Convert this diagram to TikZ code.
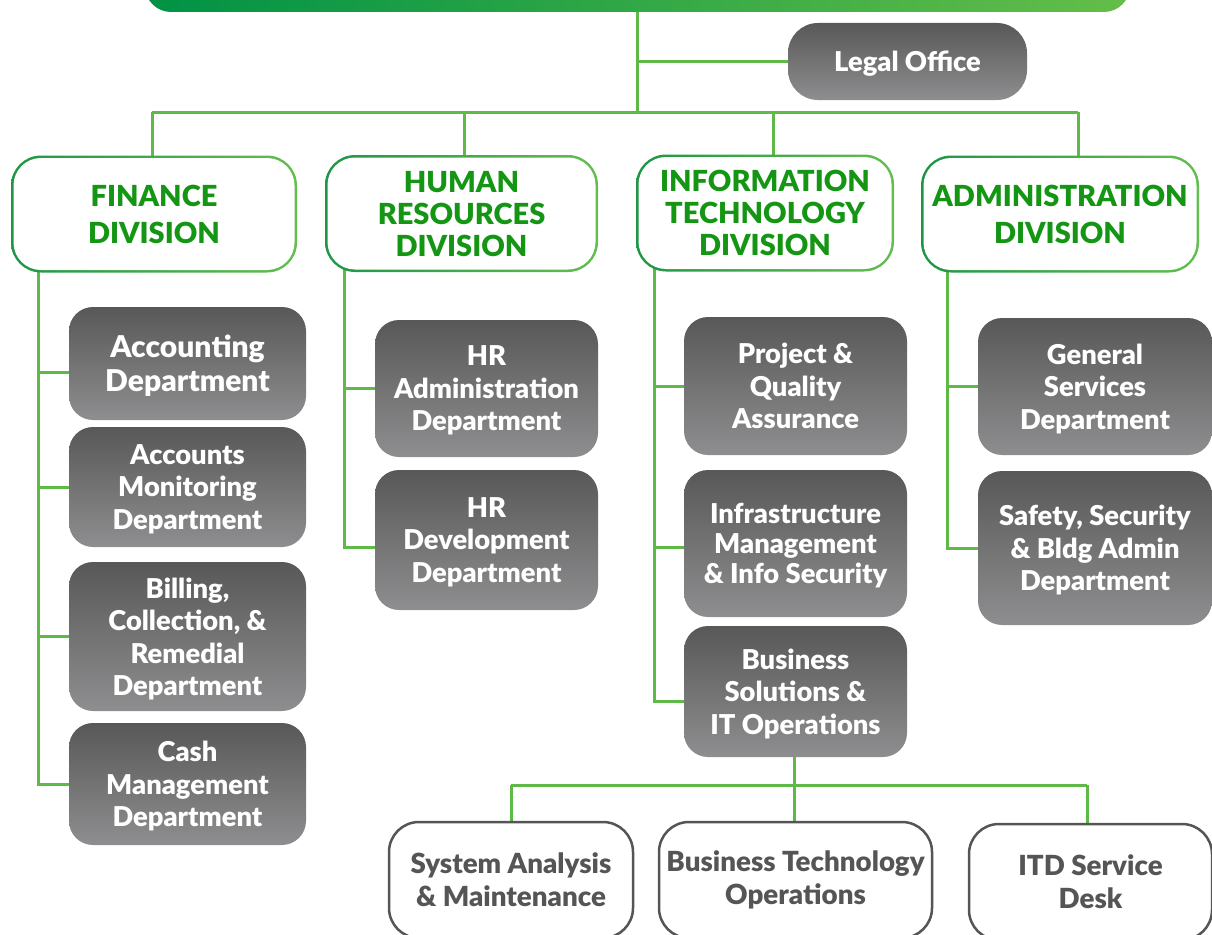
\documentclass[tikz,border=0pt]{standalone}
\usepackage{fontspec}
\setmainfont{Lato}
\newfontfamily\hvy{Lato Black}
\definecolor{lnk}{RGB}{95,185,70}
\definecolor{divtxt}{RGB}{20,150,20}
\definecolor{divL}{RGB}{30,150,70}
\definecolor{divR}{RGB}{100,190,80}
\definecolor{gtop}{RGB}{88,88,88}
\definecolor{gbot}{RGB}{142,142,144}
\definecolor{wtxt}{RGB}{85,85,85}
\definecolor{barL}{RGB}{0,146,69}
\definecolor{barM}{RGB}{0,166,81}
\definecolor{barR}{RGB}{100,190,72}
\pgfdeclarelayer{bg}
\pgfsetlayers{bg,main}
\tikzset{
  link/.style={draw=lnk, line width=3pt},
  gbox/.style={rounded corners=24pt, top color=gtop, bottom color=gbot, draw=none,
    text=white, font=\hvy\fontsize{27.3}{32.5}\selectfont, align=center, inner sep=0pt, text depth=0pt},
  divbox/.style={rounded corners=30pt, left color=divL, right color=divR, draw=none,
    text=divtxt, font=\hvy\fontsize{29}{32}\selectfont, align=center, inner sep=0pt, text depth=0pt,
    path picture={\fill[white, rounded corners=27.5pt]
      ([shift={(2.5pt,2.5pt)}]path picture bounding box.south west) rectangle
      ([shift={(-2.5pt,-2.5pt)}]path picture bounding box.north east);}},
  wbox/.style={rounded corners=30pt, draw=wtxt, line width=2.5pt, fill=white,
    text=wtxt, font=\hvy\fontsize{27.7}{33}\selectfont, align=center, inner sep=0pt},
}
\begin{document}
\begin{tikzpicture}[x=1pt,y=-1pt]
\useasboundingbox (0,0) rectangle (1212,934);
% top bar
\node[rounded corners=26pt, left color=barL, middle color=barM, right color=barR,
  minimum width=985pt, minimum height=44pt, inner sep=0pt] (bar) at (637.5,-10) {};
% legal office
\node[gbox, rounded corners=30pt, minimum width=239pt, minimum height=77pt] (legal) at (907.5,61.5) {Legal Office};
% divisions
\node[divbox, minimum width=286pt, minimum height=117pt, font=\hvy\fontsize{29}{37}\selectfont] (fin) at (154,214) {FINANCE\\DIVISION};
\node[divbox, minimum width=273pt, minimum height=117pt] (hr) at (461.5,213.5) {HUMAN\\RESOURCES\\DIVISION};
\node[divbox, minimum width=258pt, minimum height=117pt] (it) at (765,213) {INFORMATION\\TECHNOLOGY\\DIVISION};
\node[divbox, minimum width=278pt, minimum height=117pt, font=\hvy\fontsize{29}{37}\selectfont] (adm) at (1060,214) {ADMINISTRATION\\DIVISION};
% finance departments
\node[gbox, minimum width=237pt, minimum height=113pt, font=\hvy\fontsize{30}{34}\selectfont] (acc) at (187.5,363.5) {Accoun\kern0pt ting\\Department};
\node[gbox, minimum width=237pt, minimum height=120pt] (accm) at (187.5,487) {Accounts\\Monitoring\\Department};
\node[gbox, minimum width=237pt, minimum height=149pt] (bill) at (187.5,636.5) {Billing,\\Collec\kern0pt tion, \&\\Remedial\\Department};
\node[gbox, minimum width=237pt, minimum height=122pt] (cash) at (187.5,784) {Cash\\Management\\Department};
% HR departments
\node[gbox, minimum width=223pt, minimum height=137pt] (hra) at (486.5,388.5) {HR\\Administra\kern0pt tion\\Department};
\node[gbox, minimum width=223pt, minimum height=140pt] (hrd) at (486.5,540) {HR\\Development\\Department};
% IT departments
\node[gbox, minimum width=223pt, minimum height=138pt] (pqa) at (795.5,386) {Project \&\\Quality\\Assurance};
\node[gbox, minimum width=223pt, minimum height=147pt, font=\hvy\fontsize{27.3}{30}\selectfont] (inf) at (795.5,543.5) {Infrastructure\\Management\\\& Info Security};
\node[gbox, minimum width=223pt, minimum height=131pt] (bus) at (795.5,691.5) {Business\\Solutions \&\\IT Opera\kern0pt tions};
% admin departments
\node[gbox, minimum width=234pt, minimum height=137pt] (gen) at (1095,386.5) {General\\Services\\Department};
\node[gbox, minimum width=234pt, minimum height=154pt] (saf) at (1095,548) {Safety, Security\\\& Bldg Admin\\Department};
% IT sub units
\node[wbox, minimum width=244pt, minimum height=116pt] (sam) at (511,880) {System Analysis\\\& Maintenance};
\node[wbox, minimum width=273pt, minimum height=116pt] (bto) at (795.5,880) {Business Technology\\Opera\kern0pt tions};
\node[wbox, minimum width=243pt, minimum height=116pt] (itd) at (1090.5,882) {ITD Service\\Desk};
% coordinates
\coordinate (busL) at (152,112);
\coordinate (busR) at (1078,112);
\coordinate (dHR) at (464,112);
\coordinate (dIT) at (773,112);
\coordinate (sF) at (38,0);
\coordinate (sH) at (344,0);
\coordinate (sI) at (654,0);
\coordinate (sA) at (947,0);
\coordinate (bAcc) at (38,372);
\coordinate (bHrd) at (344,547);
\coordinate (bInf) at (654,547);
\coordinate (bBus) at (654,701);
\coordinate (bbL) at (511,785);
\coordinate (bbM) at (794,785);
\coordinate (bbR) at (1087,785);
\begin{pgfonlayer}{bg}
\draw[link] (bar.center) -- (bar.center |- busL);
\draw[link] (bar.center |- legal.center) -- (legal.center);
\draw[link] (busL) -- (busR);
\draw[link] (busL) -- (busL |- fin.center);
\draw[link] (dHR) -- (dHR |- hr.center);
\draw[link] (dIT) -- (dIT |- it.center);
\draw[link] (busR) -- (busR |- adm.center);
% finance
\draw[link] (sF |- fin.center) |- (cash.center);
\draw[link] (bAcc) -- (bAcc -| acc.center);
\draw[link] (sF |- accm.center) -- (accm.center);
\draw[link] (sF |- bill.center) -- (bill.center);
% hr
\draw[link] (sH |- hr.center) -- (bHrd) -- (bHrd -| hrd.center);
\draw[link] (sH |- hra.center) -- (hra.center);
% it
\draw[link] (sI |- it.center) -- (bBus) -- (bBus -| bus.center);
\draw[link] (sI |- pqa.center) -- (pqa.center);
\draw[link] (bInf) -- (bInf -| inf.center);
% admin
\draw[link] (sA |- adm.center) |- (saf.center);
\draw[link] (sA |- gen.center) -- (gen.center);
% bottom
\draw[link] (bbM |- bus.center) -- (bbM |- bto.center);
\draw[link] (bbL) -- (bbR);
\draw[link] (bbL) -- (bbL |- sam.center);
\draw[link] (bbR) -- (bbR |- itd.center);
\end{pgfonlayer}
\end{tikzpicture}
\end{document}
